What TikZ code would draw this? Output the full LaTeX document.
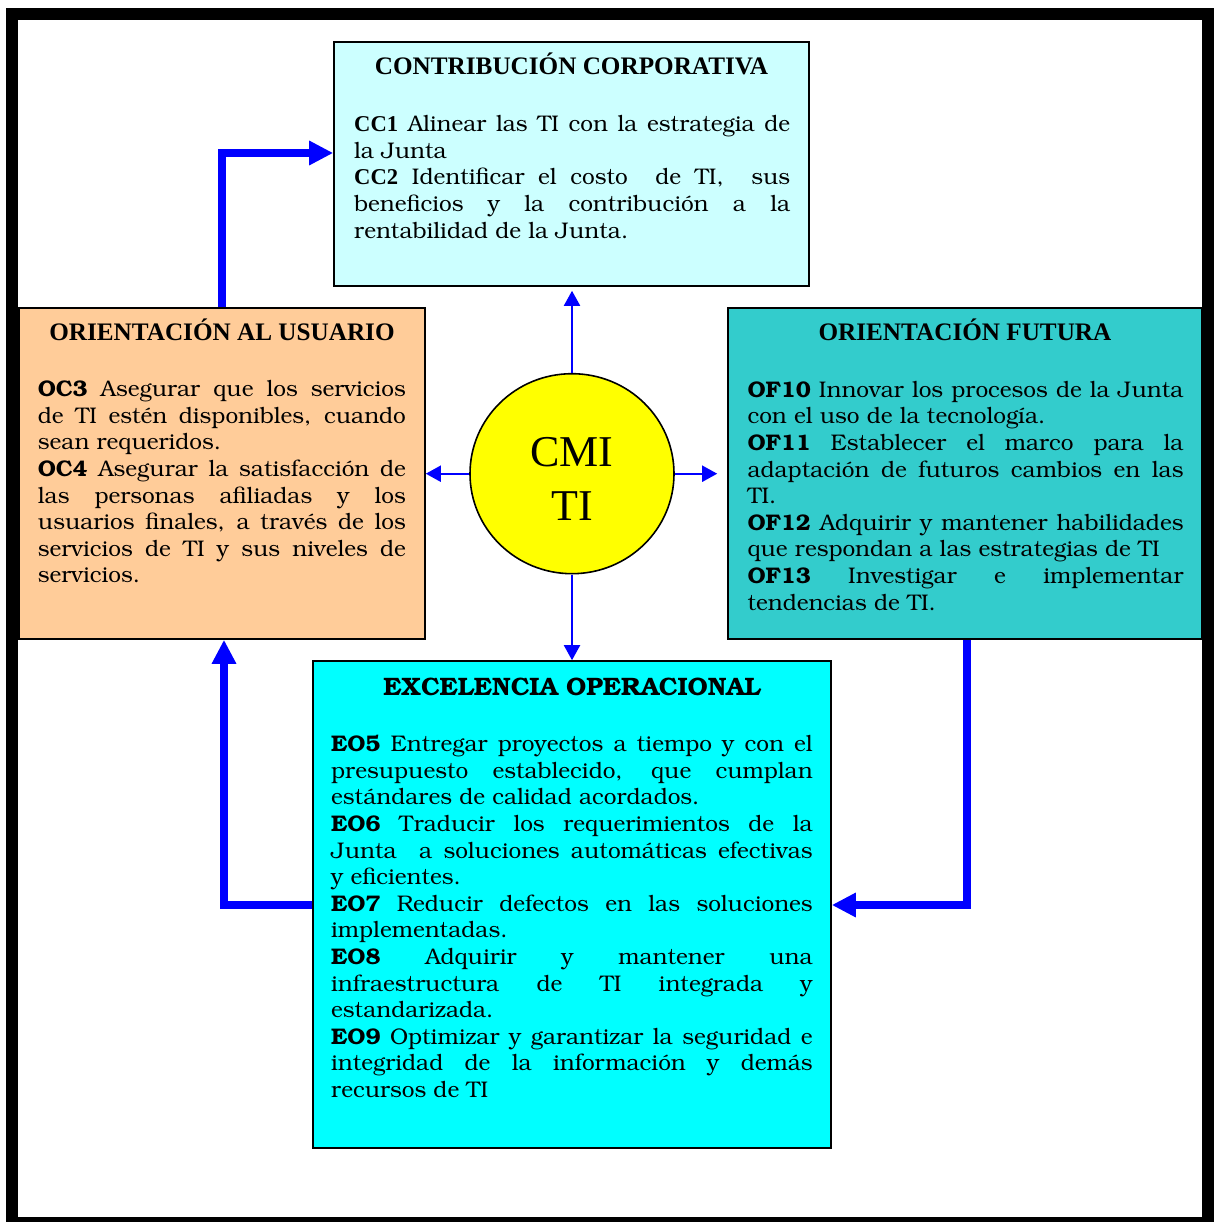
\documentclass[tikz,border=0pt]{standalone}
\usepackage[T1,TU]{fontenc}
\usepackage{fontspec}
\setmainfont{Liberation Serif}
\usetikzlibrary{arrows.meta,shapes.geometric}

% body text in Bookman, codes of the Contribution box in the main serif bold
\newcommand\bk{\fontencoding{T1}\fontfamily{pbk}\fontseries{m}\fontshape{n}\fontsize{22.6}{26.6}\selectfont}
\newcommand\serifbold[1]{{\fontencoding{TU}\rmfamily\bfseries #1}}
\newcommand\jl[1]{\hbox to\hsize{#1}}
\newcommand\fl[1]{\hbox{#1}}

\definecolor{cccol}{HTML}{CCFFFF}
\definecolor{oucol}{HTML}{FFCC99}
\definecolor{ofcol}{HTML}{33CCCC}
\definecolor{eocol}{HTML}{00FFFF}
\definecolor{arrblue}{HTML}{0000FF}
\definecolor{cmicol}{HTML}{FFFF00}

\tikzset{
  panel/.style={draw=black, line width=1.6, inner sep=0, rectangle},
  title/.style={anchor=base, inner sep=0, font=\fontsize{25.2}{28}\selectfont\bfseries},
  body/.style={anchor=base west, inner sep=0},
  thickarrow/.style={draw=arrblue, line width=7.5, -{Triangle[length=24pt,width=23pt]}},
  thinarrow/.style={draw=arrblue, line width=2, -{Triangle[length=15pt,width=16pt]}},
}

\begin{document}
\begin{tikzpicture}[x=1pt, y=-1pt]
\useasboundingbox (0,0) rectangle (1214,1222);
\fill[white] (0,0) rectangle (1214,1222);
% outer frame
\fill[black] (6,8) rectangle (1214,1222);
\fill[white] (18,20) rectangle (1202,1217);

% panels
\node[panel, fill=cccol, minimum width=475, minimum height=244] (cc) at (571.5,164) {};
\node[panel, fill=oucol, minimum width=406, minimum height=331] (ou) at (222,473.5) {};
\node[panel, fill=ofcol, minimum width=474, minimum height=331] (of) at (965,473.5) {};
\node[panel, fill=eocol, minimum width=518, minimum height=487] (eo) at (572,904.5) {};
\node[ellipse, draw=black, line width=1.6, fill=cmicol, inner sep=0,
      minimum width=204, minimum height=200] (cmi) at (572,473.7) {};

% centre label
\node[anchor=base, inner sep=0, font=\fontsize{44}{53.3}\selectfont] (cmitext) at (572,466.7)
  {\vtop{\hbox to 0pt{\hss CMI\hss}\hbox to 0pt{\hss TI\hss}}};

% titles
\node[title] (cctitle) at (571.5,75) {CONTRIBUCIÓN CORPORATIVA};
\node[title] (outitle) at (222,340) {ORIENTACIÓN AL USUARIO};
\node[title] (oftitle) at (965,340.7) {ORIENTACIÓN FUTURA};
\node[anchor=base, inner sep=0] (eotitle) at (572,695)
  {\bk\fontsize{25.2}{28}\selectfont\bfseries EXCELENCIA OPERACIONAL};

% panel texts
\node[body] (cctext) at (354,131.7) {\bk\vtop{\hsize=436pt
  \jl{\serifbold{CC1} Alinear las TI con la estrategia de}
  \fl{la Junta}
  \jl{\serifbold{CC2} Identificar el costo \ de TI, \ sus}
  \jl{beneficios y la contribución a la}
  \fl{rentabilidad de la Junta.}}};

\node[body] (outext) at (37.7,396.7) {\bk\vtop{\hsize=368pt
  \jl{\textbf{OC3} Asegurar que los servicios}
  \jl{de TI estén disponibles, cuando}
  \fl{sean requeridos.}
  \jl{\textbf{OC4} Asegurar la satisfacción de}
  \jl{las personas afiliadas y los}
  \jl{usuarios finales, a través de los}
  \jl{servicios de TI y sus niveles de}
  \fl{servicios.}}};

\node[body] (oftext) at (747.3,397.3) {\bk\vtop{\hsize=436pt
  \jl{\textbf{OF10} Innovar los procesos de la Junta}
  \fl{con el uso de la tecnología.}
  \jl{\textbf{OF11} Establecer el marco para la}
  \jl{adaptación de futuros cambios en las}
  \fl{TI.}
  \jl{\textbf{OF12} Adquirir y mantener habilidades}
  \fl{que respondan a las estrategias de TI}
  \jl{\textbf{OF13} Investigar e implementar}
  \fl{tendencias de TI.}}};

\node[body] (eotext) at (331,751.7) {\bk\vtop{\hsize=481.5pt
  \jl{\textbf{EO5} Entregar proyectos a tiempo y con el}
  \jl{presupuesto establecido, que cumplan}
  \fl{estándares de calidad acordados.}
  \jl{\textbf{EO6} Traducir los requerimientos de la}
  \jl{Junta \ a soluciones automáticas efectivas}
  \fl{y eficientes.}
  \jl{\textbf{EO7} Reducir defectos en las soluciones}
  \fl{implementadas.}
  \jl{\textbf{EO8} Adquirir y mantener una}
  \jl{infraestructura de TI integrada y}
  \fl{estandarizada.}
  \jl{\textbf{EO9} Optimizar y garantizar la seguridad e}
  \jl{integridad de la información y demás}
  \fl{recursos de TI}}};

% arrows from the centre
\draw[thinarrow, shorten >=4pt] (cmi.north) -- (cmi.north |- cc.south);
\draw[thinarrow] (cmi.west) -- (cmi.west -| ou.east);
\draw[thinarrow, shorten >=10pt] (cmi.east) -- (cmi.east -| of.west);
\draw[thinarrow] (cmi.south) -- (cmi.south |- eo.north);

% cycle between the perspectives
\draw[thickarrow] (ou.north) |- (cc.west |- 0,153);
\draw[thickarrow] (eo.west |- 0,905) -| (224,0 |- ou.south);
\draw[thickarrow] (967,0 |- of.south) |- (eo.east |- 0,905);
\end{tikzpicture}
\end{document}
